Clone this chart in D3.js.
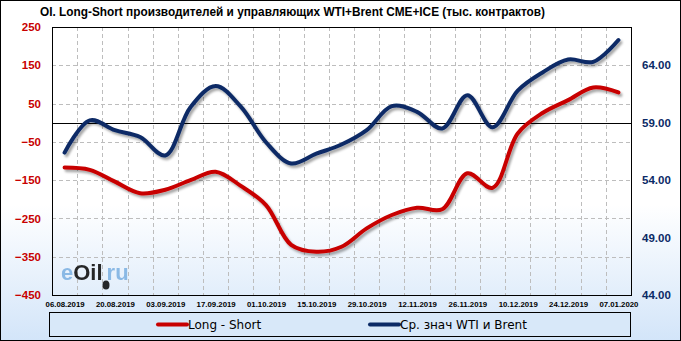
<!DOCTYPE html>
<html>
<head>
<meta charset="utf-8">
<script src="https://cdn.jsdelivr.net/npm/d3@7"></script>
<style>
  body { margin: 0; background: #fff; }
  .axis path { display: none; }
  .axis line { display: none; }
</style>
</head>
<body>
<script>
// weekly dates (x axis)
var dates = ["06.08.2019", "13.08.2019", "20.08.2019", "27.08.2019", "03.09.2019", "10.09.2019",
  "17.09.2019", "24.09.2019", "01.10.2019", "08.10.2019", "15.10.2019", "22.10.2019",
  "29.10.2019", "05.11.2019", "12.11.2019", "19.11.2019", "26.11.2019", "03.12.2019",
  "10.12.2019", "17.12.2019", "24.12.2019", "31.12.2019", "07.01.2020"];

// Long - Short, тыс. контрактов (left axis)
var longShort = [-117, -123, -154, -184, -175, -150, -128, -165, -215, -319, -337, -324,
  -276, -241, -222, -226, -132, -170, -28, 26, 59, 92, 79];

// average WTI and Brent price (right axis)
var wtiBrent = [56.4, 59.2, 58.35, 57.75, 56.15, 60.35, 62.2, 60.4, 57.3, 55.45, 56.3, 57.1,
  58.35, 60.45, 59.95, 58.5, 61.4, 58.6, 61.8, 63.4, 64.5, 64.3, 66.2];

// tick labels
var leftTicks = [250, 150, 50, -50, -150, -250, -350, -450];
var rightTicks = [64, 59, 54, 49, 44];
var dateTicks = dates.filter(function(d, i) { return i % 2 == 0; });

var seriesNames = ["Long - Short", "Ср. знач WTI и Brent"];
var red = "#c80000", navy = "#0b2a66";

// sizes
var width = 681, height = 341;
var plot = {left: 52, right: 631, top: 27, bottom: 295};

var svg = d3.select("body")
  .append("svg")
  .attr("width", width)
  .attr("height", height)
  .style("font-family", "'DejaVu Sans', sans-serif");

var defs = svg.append("defs");

// background gradient, white to light blue
var grad = defs.append("linearGradient")
  .attr("id", "bg")
  .attr("x1", 0).attr("y1", 0).attr("x2", 0).attr("y2", 1);
grad.append("stop").attr("offset", "0.6").attr("stop-color", "#ffffff");
grad.append("stop").attr("offset", "1").attr("stop-color", "#d3e5f9");

// shadow under the lines
var shadow = defs.append("filter")
  .attr("id", "shadow")
  .attr("x", "-5%").attr("y", "-10%").attr("width", "110%").attr("height", "130%");
shadow.append("feDropShadow")
  .attr("dx", 2).attr("dy", 2.5)
  .attr("stdDeviation", 1.3)
  .attr("flood-color", "#000")
  .attr("flood-opacity", 0.35);

svg.append("rect")
  .attr("x", 0.5).attr("y", 0.5)
  .attr("width", width - 1).attr("height", height - 1)
  .attr("fill", "url(#bg)")
  .attr("stroke", "#000");

// scales
var x = d3.scalePoint()
  .domain(dates)
  .range([plot.left, plot.right])
  .padding(0.5);

var yLeft = d3.scaleLinear()
  .domain([-450, 250])
  .range([plot.bottom, plot.top]);

var yRight = d3.scaleLinear()
  .domain([44, 44 + 700 / 30])
  .range([plot.bottom, plot.top]);

// grid
var grid = svg.append("g").attr("class", "grid");
grid.selectAll("line.h")
  .data(leftTicks.slice(1))
  .enter()
  .append("line")
  .attr("class", "h")
  .attr("x1", plot.left).attr("x2", plot.right)
  .attr("y1", function(d) { return Math.round(yLeft(d)) + 0.5; })
  .attr("y2", function(d) { return Math.round(yLeft(d)) + 0.5; });

grid.selectAll("line.v")
  .data(dates.slice(0, -1))
  .enter()
  .append("line")
  .attr("class", "v")
  .attr("x1", function(d) { return Math.round(x(d) + x.step() / 2) + 0.5; })
  .attr("x2", function(d) { return Math.round(x(d) + x.step() / 2) + 0.5; })
  .attr("y1", plot.top).attr("y2", plot.bottom);

grid.selectAll("line")
  .attr("stroke", "#bdbdbd")
  .attr("stroke-dasharray", "4,3");

// zero line
svg.append("line")
  .attr("x1", plot.left).attr("x2", plot.right)
  .attr("y1", Math.round(yLeft(0)) + 0.5)
  .attr("y2", Math.round(yLeft(0)) + 0.5)
  .attr("stroke", "#000");

// plot frame
svg.append("rect")
  .attr("x", plot.left + 0.5).attr("y", plot.top + 0.5)
  .attr("width", plot.right - plot.left)
  .attr("height", plot.bottom - plot.top)
  .attr("fill", "none")
  .attr("stroke", "#000");

// watermark
var mark = svg.append("text")
  .attr("x", 61).attr("y", 280)
  .style("font-family", "'Liberation Sans', Arial, sans-serif")
  .style("font-size", "22px")
  .style("font-weight", "bold")
  .style("opacity", 0.9);
mark.append("tspan").attr("fill", "#80b3e3").text("e");
mark.append("tspan").attr("fill", "#111").text("Oil");
mark.append("tspan").attr("fill", "#80b3e3").attr("dx", 4).text("ru");
svg.append("ellipse")
  .attr("cx", 106).attr("cy", 285)
  .attr("rx", 3.5).attr("ry", 4.5)
  .attr("fill", "#111")
  .style("opacity", 0.9);

// lines
var lineLeft = d3.line()
  .x(function(d, i) { return x(dates[i]); })
  .y(function(d) { return yLeft(d); })
  .curve(d3.curveCatmullRom.alpha(0.5));

var lineRight = d3.line()
  .x(function(d, i) { return x(dates[i]); })
  .y(function(d) { return yRight(d); })
  .curve(d3.curveCatmullRom.alpha(0.5));

svg.append("path")
  .datum(longShort)
  .attr("d", lineLeft)
  .attr("fill", "none")
  .attr("stroke", red)
  .attr("stroke-width", 4)
  .attr("stroke-linecap", "round")
  .attr("filter", "url(#shadow)");

svg.append("path")
  .datum(wtiBrent)
  .attr("d", lineRight)
  .attr("fill", "none")
  .attr("stroke", navy)
  .attr("stroke-width", 4)
  .attr("stroke-linecap", "round")
  .attr("filter", "url(#shadow)");

// axes
var leftAxis = svg.append("g")
  .attr("class", "axis")
  .attr("transform", "translate(" + (plot.left - 11) + ",0)")
  .call(d3.axisLeft(yLeft).tickValues(leftTicks).tickSize(0));
leftAxis.selectAll("text")
  .attr("x", 0)
  .attr("fill", red)
  .style("font-size", "11.5px")
  .style("font-weight", "bold");

var rightAxis = svg.append("g")
  .attr("class", "axis")
  .attr("transform", "translate(" + (plot.right + 11) + ",0)")
  .call(d3.axisRight(yRight).tickValues(rightTicks).tickSize(0).tickFormat(d3.format(".2f")));
rightAxis.selectAll("text")
  .attr("x", 0)
  .attr("fill", navy)
  .style("font-size", "11.5px")
  .style("font-weight", "bold");

var bottomAxis = svg.append("g")
  .attr("class", "axis")
  .attr("transform", "translate(0," + plot.bottom + ")")
  .call(d3.axisBottom(x).tickValues(dateTicks).tickSize(0));
bottomAxis.selectAll("text")
  .attr("y", 6)
  .attr("fill", "#000")
  .style("font-size", "7.8px")
  .style("font-weight", "bold");

// title
svg.append("text")
  .attr("x", 40).attr("y", 16)
  .attr("textLength", 505)
  .attr("lengthAdjust", "spacingAndGlyphs")
  .style("font-size", "12px")
  .style("font-weight", "bold")
  .style("font-family", "'Liberation Sans', sans-serif")
  .text("OI. Long-Short производителей и управляющих WTI+Brent CME+ICE (тыс. контрактов)");

// legend
var legend = svg.append("g").attr("class", "legend");
legend.append("rect")
  .attr("x", 49.5).attr("y", 312.5)
  .attr("width", 581).attr("height", 24)
  .attr("fill", "#d8e8f9")
  .attr("stroke", "#000");

var legendX = [158, 370];
var legendColors = [red, navy];
legend.selectAll("line")
  .data(seriesNames)
  .enter()
  .append("line")
  .attr("x1", function(d, i) { return legendX[i]; })
  .attr("x2", function(d, i) { return legendX[i] + 29; })
  .attr("y1", 324.5).attr("y2", 324.5)
  .attr("stroke", function(d, i) { return legendColors[i]; })
  .attr("stroke-width", 4)
  .attr("stroke-linecap", "round");

legend.selectAll("text")
  .data(seriesNames)
  .enter()
  .append("text")
  .attr("x", function(d, i) { return legendX[i] + 30; })
  .attr("y", 329)
  .style("font-size", "12px")
  .text(function(d) { return d; });
</script>
</body>
</html>
